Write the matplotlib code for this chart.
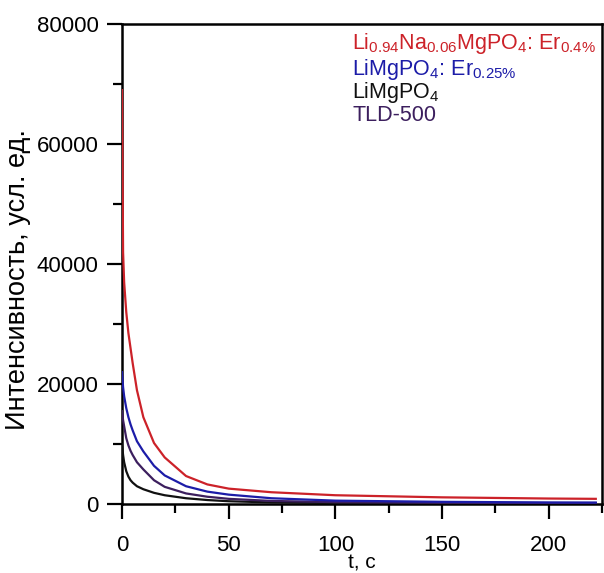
import numpy as np
import matplotlib
matplotlib.use('Agg')
import matplotlib.pyplot as plt
from matplotlib.ticker import MultipleLocator

plt.rcParams['font.family'] = ['Liberation Sans', 'DejaVu Sans']

# время, с
t = [0, 0.5, 1, 2, 3, 4, 5, 7, 10, 15, 20, 30, 40, 50, 70, 100, 150, 200, 222]

# интенсивности (усл. ед.)
li_na   = [69000, 42000, 37000, 32000, 28500, 26000, 23500, 19000, 14500, 10200, 7800, 4700, 3300, 2600, 2000, 1500, 1150, 950, 900]
li_er   = [22000, 19500, 18000, 16000, 14500, 13300, 12300, 10500, 8800, 6400, 4800, 3000, 2100, 1600, 1000, 600, 400, 300, 280]
tld500  = [15500, 14000, 13000, 11000, 9800, 8900, 8200, 7000, 5800, 4000, 2900, 1800, 1250, 900, 550, 350, 250, 200, 200]
limgpo4 = [10000, 8200, 7000, 5500, 4600, 4000, 3600, 3000, 2500, 1900, 1500, 1000, 700, 500, 300, 200, 150, 100, 100]

labels = [r'Li$\mathregular{_{0.94}}$Na$\mathregular{_{0.06}}$MgPO$\mathregular{_4}$: Er$\mathregular{_{0.4\%}}$',
          r'LiMgPO$\mathregular{_4}$: Er$\mathregular{_{0.25\%}}$',
          r'LiMgPO$\mathregular{_4}$',
          'TLD-500']
colors = ['#cc2229', '#1c1ca8', '#111111', '#3c1f5e']

fig = plt.figure(figsize=(6.04, 5.73), dpi=100)
ax = fig.add_axes([0.202, 0.120, 0.795, 0.838])

ax.plot(t, limgpo4, color=colors[2], lw=1.6, zorder=3)
ax.plot(t, tld500, color=colors[3], lw=1.6, zorder=3)
ax.plot(t, li_er, color=colors[1], lw=1.6, zorder=3)
ax.plot(t, li_na, color=colors[0], lw=1.6, zorder=3)

ax.set_xlim(0, 225)
ax.set_ylim(0, 80000)
ax.xaxis.set_major_locator(MultipleLocator(50))
ax.xaxis.set_minor_locator(MultipleLocator(25))
ax.yaxis.set_major_locator(MultipleLocator(20000))
ax.yaxis.set_minor_locator(MultipleLocator(10000))
ax.tick_params(which='major', direction='out', length=11, width=1.6, labelsize=16, pad=6)
ax.tick_params(axis='x', which='major', pad=11)
ax.tick_params(which='minor', direction='out', length=6.5, width=1.6)
for s in ax.spines.values():
    s.set_linewidth(1.8)

ax.set_xlabel('t, с', fontsize=15, labelpad=-2)
ax.set_ylabel('Интенсивность, усл. ед.', fontsize=19.5, fontstyle='normal')
ax.yaxis.set_label_coords(-0.19, 0.469)

ys = [0.985, 0.932, 0.884, 0.832]
for lab, c, y in zip(labels, colors, ys):
    ax.text(0.48, y, lab, color=c, fontsize=15.5, transform=ax.transAxes, va='top')

fig.savefig('out.png', dpi=100)
